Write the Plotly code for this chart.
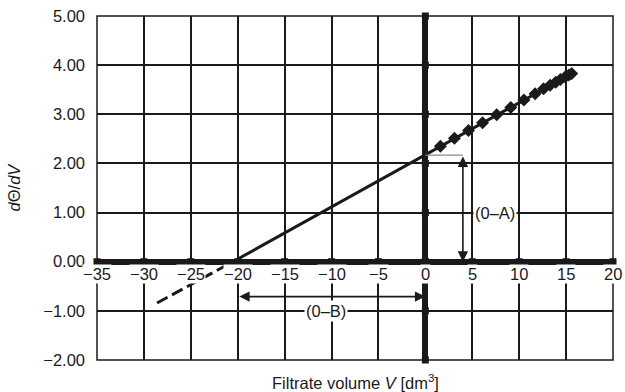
import plotly.graph_objects as go

# ---- data ----
x_data = [1.6, 3.1, 4.6, 6.1, 7.6, 9.1, 10.5, 11.7, 12.6, 13.3, 13.9, 14.4, 14.9, 15.3, 15.6]
y_data = [2.35, 2.51, 2.67, 2.83, 2.99, 3.14, 3.29, 3.42, 3.52, 3.59, 3.65, 3.71, 3.76, 3.80, 3.83]
fit_x = [-20.5, 15.6]
fit_y = [0.0, 3.83]
extrap_x = [-28.6, -20.5]
extrap_y = [-0.84, 0.0]
x_ticks = [-35, -30, -25, -20, -15, -10, -5, 0, 5, 10, 15, 20]
x_tick_text = ["\u221235", "\u221230", "\u221225", "\u221220", "\u221215", "\u221210", "\u22125", "0", "5", "10", "15", "20"]
y_ticks = [-2, -1, 0, 1, 2, 3, 4, 5]
y_tick_text = ["\u22122.00", "\u22121.00", "0.00", "1.00", "2.00", "3.00", "4.00", "5.00"]
intercept_y = 2.17
arrow_a_x = 4.0
arrow_b_y = -0.71
x_intercept = -20.0

FONT = "Liberation Sans, Arial, sans-serif"
INK = "#1a1a1a"
FS = 16.5

fig = go.Figure()

# small square marks where the grid crosses the zero axes
fig.add_trace(go.Scatter(
    x=x_ticks + [0] * len(y_ticks), y=[0] * len(x_ticks) + y_ticks,
    mode="markers", marker=dict(symbol="square", size=7, color=INK),
    hoverinfo="skip", showlegend=False, cliponaxis=False))

fig.add_trace(go.Scatter(x=extrap_x, y=extrap_y, mode="lines",
                         line=dict(color=INK, width=3, dash="12px,5px"), showlegend=False))
fig.add_trace(go.Scatter(x=fit_x, y=fit_y, mode="lines",
                         line=dict(color=INK, width=3), showlegend=False))
fig.add_trace(go.Scatter(x=x_data, y=y_data, mode="markers",
                         marker=dict(symbol="diamond", size=10, color=INK), showlegend=False))

# thin grey guide from axis to arrow at intercept
fig.add_shape(type="line", x0=0, x1=arrow_a_x, y0=intercept_y, y1=intercept_y,
              line=dict(color="#888888", width=1.2))

# (0-A) vertical double arrow
fig.add_annotation(x=arrow_a_x, y=0.0, ax=arrow_a_x, ay=intercept_y,
                   xref="x", yref="y", axref="x", ayref="y", text="",
                   showarrow=True, arrowhead=2, arrowsize=1.3, arrowwidth=1.6,
                   arrowside="end+start", arrowcolor=INK, standoff=0, startstandoff=0)
fig.add_annotation(x=7.4, y=1.0, text="(0\u2013A)", showarrow=False,
                   bgcolor="white", borderpad=1, font=dict(family=FONT, size=FS, color=INK))

# (0-B) horizontal double arrow
fig.add_annotation(x=0, y=arrow_b_y, ax=x_intercept, ay=arrow_b_y,
                   xref="x", yref="y", axref="x", ayref="y", text="",
                   showarrow=True, arrowhead=2, arrowsize=1.3, arrowwidth=1.6,
                   arrowside="end+start", arrowcolor=INK, standoff=0, startstandoff=0)
fig.add_annotation(x=-10.6, y=-1.0, text="(0\u2013B)", showarrow=False,
                   bgcolor="white", borderpad=1, font=dict(family=FONT, size=FS, color=INK))

# x tick labels, drawn just under the zero line with a white background
for xv, xt in zip(x_ticks, x_tick_text):
    fig.add_annotation(x=xv, y=0, xref="x", yref="y", text=xt, showarrow=False,
                       yanchor="top", yshift=-2, bgcolor="white", borderpad=0,
                       font=dict(family=FONT, size=FS, color=INK))

# x title at bottom
fig.add_annotation(x=0.5, y=-0.064, xref="paper", yref="paper", yanchor="middle",
                   text="Filtrate volume <i>V</i> [dm<sup>3</sup>]", showarrow=False,
                   font=dict(family=FONT, size=FS, color=INK))

# plot frame
fig.add_shape(type="rect", xref="x domain", yref="y domain", x0=0, x1=1, y0=0, y1=1,
              line=dict(color=INK, width=1.5))

fig.update_layout(
    width=625, height=392,
    margin=dict(l=97, r=12, t=16, b=32, autoexpand=False),
    paper_bgcolor="white", plot_bgcolor="white",
    font=dict(family=FONT, size=FS, color=INK),
    xaxis=dict(range=[-35, 20], tickvals=x_ticks, showticklabels=False,
               showgrid=True, gridcolor=INK, gridwidth=1.7,
               zeroline=True, zerolinecolor=INK, zerolinewidth=6,
               showline=False, ticks=""),
    yaxis=dict(range=[-2, 5], tickvals=y_ticks, ticktext=y_tick_text,
               showgrid=True, gridcolor=INK, gridwidth=1.7,
               zeroline=True, zerolinecolor=INK, zerolinewidth=6,
               showline=False, ticks="", ticklabelstandoff=11,
               tickfont=dict(family=FONT, size=FS, color=INK),
               title=dict(text="<i>d</i>\u0398/<i>dV</i>", standoff=18,
                          font=dict(family=FONT, size=FS, color=INK))),
)

fig.write_html("out.html")
